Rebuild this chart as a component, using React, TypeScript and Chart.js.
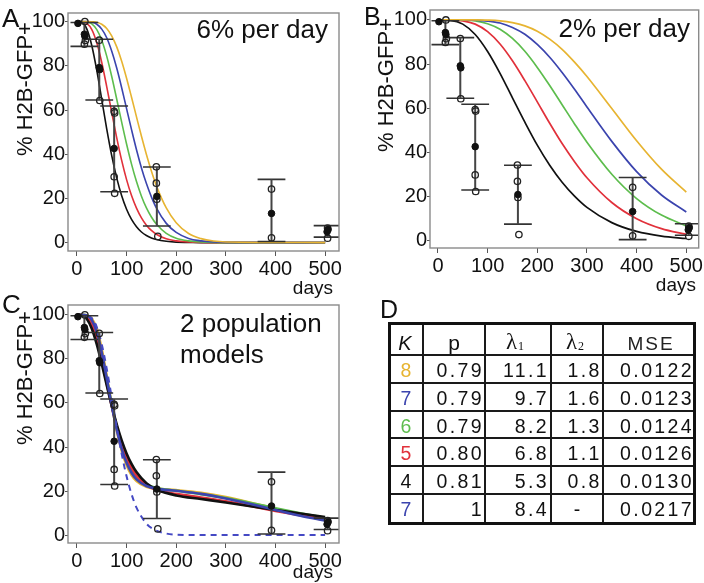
import React, { useEffect, useRef } from "react";
import { Chart, registerables } from "chart.js";

Chart.register(...registerables);

const FONT = '"Liberation Sans", Arial, Helvetica, sans-serif';
const SERIF = '"Liberation Serif", "Times New Roman", serif';

// ---------- axis ticks ----------
const xTicks = [0, 100, 200, 300, 400, 500];
const yTicks = [0, 20, 40, 60, 80, 100];

// ---------- measured data (same in every panel) ----------
const openDays = [16, 17, 15, 45, 46, 75, 76, 75, 76, 160, 160, 161, 163, 392, 392, 505, 505];
const openVals = [100, 91.5, 89.8, 91.6, 64.3, 59.4, 58.7, 29.8, 22.3, 34.3, 26.9, 19.6, 2.8, 24.2, 2.2, 6.6, 2.0];
const meanDays = [2, 15, 16, 45, 46, 75, 161, 392, 504, 506];
const meanVals = [99.2, 94.3, 93.4, 79.2, 78.3, 42.6, 20.9, 13.2, 4.9, 5.9];
const errDays = [15, 45, 75, 161, 392, 505];
const errHigh = [99.6, 92.0, 61.8, 34.2, 28.6, 7.7];
const errLow = [88.8, 64.5, 23.0, 7.5, 0.5, 2.5];

// ---------- panel A: 6% per day ----------
const aDays = [0, 10, 20, 30, 40, 50, 60, 70, 80, 90, 100, 110, 120, 130, 140, 150, 160, 180, 200, 225, 250, 275, 300, 500];
const aK4 = [100, 99.7, 96.6, 89.1, 77.9, 64.7, 51.5, 39.5, 29.4, 21.3, 15.1, 10.5, 7.2, 4.8, 3.2, 2.1, 1.4, 0.6, 0.2, 0.1, 0, 0, 0, 0];
const aK5 = [100, 100, 99.2, 96.4, 90.4, 81.5, 70.6, 59.0, 47.6, 37.3, 28.5, 21.3, 15.6, 11.2, 7.9, 5.5, 3.8, 1.7, 0.8, 0.3, 0.1, 0, 0, 0];
const aK6 = [100, 100, 99.8, 99.0, 96.4, 91.6, 84.4, 75.3, 65.1, 54.6, 44.6, 35.5, 27.6, 21.0, 15.7, 11.6, 8.4, 4.2, 2.0, 0.8, 0.3, 0.1, 0, 0];
const aK7 = [100, 100, 100, 99.7, 98.8, 96.6, 92.7, 86.7, 79.1, 70.2, 60.6, 51.1, 42.0, 33.8, 26.7, 20.7, 15.7, 8.7, 4.6, 1.9, 0.8, 0.3, 0.1, 0];
const aK8 = [100, 100, 100, 99.9, 99.7, 98.8, 96.9, 93.6, 88.7, 82.2, 74.4, 65.8, 56.9, 48.1, 39.9, 32.4, 25.8, 15.7, 9.0, 4.1, 1.8, 0.7, 0.3, 0];

// ---------- panel B: 2% per day ----------
const bDays = [0, 25, 50, 75, 100, 125, 150, 175, 200, 225, 250, 275, 300, 350, 400, 450, 500];
const bK4 = [100, 99.8, 98.1, 93.4, 85.7, 75.8, 64.7, 53.7, 43.3, 34.2, 26.5, 20.2, 15.1, 8.2, 4.2, 2.1, 1.0];
const bK5 = [100, 100, 99.6, 98.1, 94.7, 89.1, 81.5, 72.5, 62.9, 53.2, 44.0, 35.8, 28.5, 17.3, 10.0, 5.5, 2.9];
const bK6 = [100, 100, 99.9, 99.6, 98.3, 95.8, 91.6, 85.8, 78.5, 70.3, 61.6, 52.9, 44.6, 30.1, 19.1, 11.6, 6.7];
const bK7 = [100, 100, 100, 99.9, 99.5, 98.6, 96.6, 93.5, 88.9, 83.1, 76.2, 68.6, 60.6, 45.0, 31.3, 20.7, 13.0];
const bK8 = [100, 100, 100, 100, 99.9, 99.6, 98.8, 97.3, 94.9, 91.3, 86.7, 80.9, 74.4, 59.9, 45.3, 32.4, 22.0];

// ---------- panel C: 2 population models ----------
const cDays = [0, 10, 20, 30, 40, 50, 60, 70, 80, 90, 100, 110, 120, 140, 160, 200, 250, 300, 350, 400, 450, 500];
const cK8 = [100, 100, 99.8, 98.4, 93.6, 84.5, 72.3, 59.4, 47.7, 38.5, 31.8, 27.3, 24.6, 21.9, 21.1, 20.4, 19.2, 17.3, 14.7, 11.9, 9.2, 6.8];
const cK7 = [100, 100, 99.7, 97.7, 92.2, 82.9, 71.2, 59.0, 48.1, 39.3, 32.8, 28.3, 25.3, 22.3, 21.1, 20.1, 18.7, 16.6, 14.1, 11.4, 8.8, 6.6];
const cK6 = [100, 100, 99.5, 96.9, 90.9, 81.8, 70.8, 59.5, 49.4, 41.1, 34.7, 30.0, 26.7, 23.0, 21.4, 20.1, 18.6, 16.8, 14.6, 12.2, 9.9, 7.8];
const cK5 = [100, 100, 99.0, 95.5, 88.8, 79.5, 69.0, 58.7, 49.3, 41.4, 35.3, 30.5, 27.0, 22.8, 20.6, 18.7, 17.1, 15.3, 13.2, 11.0, 9.0, 7.2];
const cK4 = [100, 99.8, 98.1, 93.7, 86.6, 77.7, 68.1, 58.8, 50.4, 43.1, 37.1, 32.3, 28.6, 23.5, 20.7, 18.0, 16.4, 14.8, 13.1, 11.4, 9.8, 8.2];
const cSingleDays = [0, 10, 20, 30, 40, 50, 60, 70, 80, 90, 100, 110, 120, 140, 160, 180, 200, 250, 500];
const cSingle = [100, 100, 99.8, 98.5, 94.5, 86.7, 75.6, 62.6, 49.2, 37.0, 26.7, 18.6, 12.5, 5.2, 2.0, 0.7, 0.2, 0, 0];

// ---------- table D ----------
const tableK = ["8", "7", "6", "5", "4", "7"];
const tableP = ["0.79", "0.79", "0.79", "0.80", "0.81", "1"];
const tableL1 = ["11.1", "9.7", "8.2", "6.8", "5.3", "8.4"];
const tableL2 = ["1.8", "1.6", "1.3", "1.1", "0.8", "-"];
const tableMSE = ["0.0122", "0.0123", "0.0124", "0.0126", "0.0130", "0.0217"];

const C8 = "#E7B431";
const C7 = "#3B44AE";
const C6 = "#5DBD4D";
const C5 = "#E1313B";
const C4 = "#111111";
const tableColors = [C8, C7, C6, C5, "#111111", C7];

const CAP = 28;

const pts = (xs: number[], ys: number[]) => xs.map((x, i) => ({ x, y: ys[i] }));

function errSegments() {
  const d: any[] = [];
  errDays.forEach((x, i) => {
    d.push({ x, y: errLow[i] }, { x, y: errHigh[i] }, { x, y: null });
  });
  return d;
}
function capSegments() {
  const d: any[] = [];
  errDays.forEach((x, i) => {
    [errHigh[i], errLow[i]].forEach((v) => {
      d.push({ x: x - CAP, y: v }, { x: x + CAP, y: v }, { x, y: null });
    });
  });
  return d;
}

function markerSets() {
  return [
    {
      label: "mean",
      data: pts(meanDays, meanVals),
      showLine: false,
      pointRadius: 3.3,
      pointBackgroundColor: "#111",
      pointBorderColor: "#111",
      pointBorderWidth: 1,
      order: 0,
    },
    {
      label: "individual",
      data: pts(openDays, openVals),
      showLine: false,
      pointRadius: 3.2,
      pointBackgroundColor: "rgba(255,255,255,0)",
      pointBorderColor: "#222",
      pointBorderWidth: 1.3,
      order: 0,
    },
    {
      label: "error",
      data: errSegments(),
      borderColor: "#454545",
      borderWidth: 2,
      pointRadius: 0,
      spanGaps: false,
      order: 1,
    },
    {
      label: "caps",
      data: capSegments(),
      borderColor: "#333",
      borderWidth: 1.6,
      pointRadius: 0,
      spanGaps: false,
      order: 1,
    },
  ];
}

function curve(label: string, xs: number[], ys: number[], color: string, order: number, width: number, extra: any = {}) {
  return {
    label,
    data: pts(xs, ys),
    borderColor: color,
    borderWidth: width,
    pointRadius: 0,
    cubicInterpolationMode: "monotone",
    fill: false,
    order,
    ...extra,
  };
}

const boxPlugin = {
  id: "box",
  afterDraw(chart: any) {
    const { ctx, chartArea } = chart;
    ctx.save();
    ctx.strokeStyle = "#8a8a8a";
    ctx.lineWidth = 1.4;
    ctx.strokeRect(chartArea.left, chartArea.top, chartArea.right - chartArea.left, chartArea.bottom - chartArea.top);
    ctx.restore();
  },
};

type Area = { l: number; t: number; r: number; b: number };

function PlotPanel(props: {
  left: number; top: number; width: number; height: number; area: Area;
  xRange: [number, number]; yRange: [number, number]; curves: any[];
}) {
  const ref = useRef<HTMLCanvasElement>(null);
  const { left, top, width, height, area, xRange, yRange, curves } = props;
  useEffect(() => {
    const chart = new Chart(ref.current as HTMLCanvasElement, {
      type: "line",
      data: { datasets: [...markerSets(), ...curves] as any },
      options: {
        responsive: false,
        animation: false,
        layout: { padding: { left: 0, top: area.t, right: width - area.r, bottom: 0 } },
        plugins: { legend: { display: false }, tooltip: { enabled: false } },
        scales: {
          x: {
            type: "linear",
            min: xRange[0],
            max: xRange[1],
            afterBuildTicks: (s: any) => { s.ticks = xTicks.map((value) => ({ value })); },
            afterFit: (s: any) => { s.height = height - area.b; s.paddingLeft = 0; s.paddingRight = 0; },
            grid: { drawOnChartArea: false, drawTicks: true, tickLength: 5, color: "#555", lineWidth: 1 },
            border: { display: false },
            ticks: { font: { family: FONT, size: 20 }, color: "#111", padding: 1, maxRotation: 0, autoSkip: false },
          },
          y: {
            type: "linear",
            min: yRange[0],
            max: yRange[1],
            afterBuildTicks: (s: any) => { s.ticks = yTicks.map((value) => ({ value })); },
            afterFit: (s: any) => { s.width = area.l; s.paddingTop = 0; s.paddingBottom = 0; },
            grid: { drawOnChartArea: false, drawTicks: true, tickLength: 3, color: "#555", lineWidth: 1 },
            border: { display: false },
            ticks: { font: { family: FONT, size: 20 }, color: "#111", padding: 0, autoSkip: false },
          },
        },
      } as any,
      plugins: [boxPlugin],
    });
    return () => chart.destroy();
  }, []);
  return (
    <canvas
      ref={ref}
      width={width}
      height={height}
      style={{ position: "absolute", left, top, width, height }}
    />
  );
}

function Txt(props: { x: number; y: number; size: number; text: string; anchor?: string; family?: string; color?: string; style?: any }) {
  const { x, y, size, text, anchor = "start", family = FONT, color = "#111", style = {} } = props;
  const base: any = {
    position: "absolute",
    top: y - 0.8465 * size,
    fontSize: size,
    lineHeight: `${size}px`,
    fontFamily: family,
    whiteSpace: "nowrap",
    color,
    ...style,
  };
  if (anchor === "end") base.right = 704 - x;
  else if (anchor === "middle") { base.left = x - 150; base.width = 300; base.textAlign = "center"; }
  else base.left = x;
  return <div style={base}>{text}</div>;
}

function YTitle(props: { baselineX: number; cy: number; size: number; text: string }) {
  const { baselineX, cy, size, text } = props;
  const cx = baselineX - 0.3465 * size;
  return (
    <div
      style={{
        position: "absolute", left: cx - 100, top: cy - size / 2, width: 200, height: size,
        lineHeight: `${size}px`, fontSize: size, fontFamily: FONT, textAlign: "center",
        transform: "rotate(-90deg)", whiteSpace: "nowrap", color: "#111",
      }}
    >
      {text}
    </div>
  );
}

const colX = [389, 423, 485, 551, 603, 694];
const rowY = [323, 355, 383, 411, 438, 466, 494, 523];

function TableD() {
  const els: any[] = [];
  for (let i = 1; i < colX.length - 1; i++) {
    els.push(<div key={"v" + i} style={{ position: "absolute", left: colX[i] - 1, top: rowY[0], width: 2, height: rowY[rowY.length - 1] - rowY[0], background: "#1a1a1a" }} />);
  }
  for (let j = 1; j < rowY.length - 1; j++) {
    els.push(<div key={"h" + j} style={{ position: "absolute", left: colX[0], top: rowY[j] - 1, width: colX[colX.length - 1] - colX[0], height: 2, background: "#1a1a1a" }} />);
  }
  els.push(
    <div key="outer" style={{ position: "absolute", left: colX[0] - 1.5, top: rowY[0] - 1.5, width: colX[5] - colX[0] + 3, height: rowY[7] - rowY[0] + 3, border: "3px solid #111", boxSizing: "border-box" }} />
  );
  const ls = 2.4;
  const fs = 19.5;
  const sp = { letterSpacing: `${ls}px` };
  const hb = 350;
  els.push(<Txt key="hK" x={405} y={hb} size={20} text="K" anchor="middle" style={{ fontStyle: "italic" }} />);
  els.push(<Txt key="hp" x={454} y={hb} size={21} text="p" anchor="middle" />);
  els.push(<Txt key="hl1" x={506} y={hb - 0.5} size={23} text="λ" family={SERIF} />);
  els.push(<Txt key="hl1s" x={518} y={hb} size={12} text="1" family={SERIF} />);
  els.push(<Txt key="hl2" x={566} y={hb - 0.5} size={23} text="λ" family={SERIF} />);
  els.push(<Txt key="hl2s" x={578} y={hb} size={12} text="2" family={SERIF} />);
  els.push(<Txt key="hmse" x={651} y={hb} size={19} text="MSE" anchor="middle" style={{ letterSpacing: "2px", color: "#222" }} />);
  for (let r = 0; r < tableK.length; r++) {
    const b = rowY[r + 1] + 22.3;
    els.push(<Txt key={"k" + r} x={406} y={b} size={fs} text={tableK[r]} anchor="middle" color={tableColors[r]} />);
    els.push(<Txt key={"p" + r} x={481.7 + ls} y={b} size={fs} text={tableP[r]} anchor="end" style={sp} />);
    els.push(<Txt key={"l1" + r} x={546.7 + ls} y={b} size={fs} text={tableL1[r]} anchor="end" style={sp} />);
    if (tableL2[r] === "-") {
      els.push(<Txt key={"l2" + r} x={577} y={b} size={fs} text={tableL2[r]} anchor="middle" />);
    } else {
      els.push(<Txt key={"l2" + r} x={599.3 + ls} y={b} size={fs} text={tableL2[r]} anchor="end" style={sp} />);
    }
    els.push(<Txt key={"m" + r} x={691.7 + ls} y={b} size={fs} text={tableMSE[r]} anchor="end" style={sp} />);
  }
  return <>{els}</>;
}

export default function App() {
  const curvesA = [
    curve("K=8", aDays, aK8, C8, 2, 1.6),
    curve("K=7", aDays, aK7, C7, 3, 1.6),
    curve("K=6", aDays, aK6, C6, 4, 1.6),
    curve("K=5", aDays, aK5, C5, 5, 1.6),
    curve("K=4", aDays, aK4, C4, 6, 1.6),
  ];
  const curvesB = [
    curve("K=8", bDays, bK8, C8, 2, 1.7),
    curve("K=7", bDays, bK7, C7, 3, 1.7),
    curve("K=6", bDays, bK6, C6, 4, 1.7),
    curve("K=5", bDays, bK5, C5, 5, 1.7),
    curve("K=4", bDays, bK4, C4, 6, 1.7),
  ];
  const curvesC = [
    curve("single K=7", cSingleDays, cSingle, "#4549C4", 2, 2, { borderDash: [6, 5] }),
    curve("K=7", cDays, cK7, C7, 3, 2.6),
    curve("K=4", cDays, cK4, C4, 4, 2.6),
    curve("K=5", cDays, cK5, C5, 5, 2.6),
    curve("K=6", cDays, cK6, C6, 6, 2.6),
    curve("K=8", cDays, cK8, C8, 7, 2.6),
  ];
  return (
    <div style={{ position: "absolute", left: 0, top: 0, width: 704, height: 583, background: "#fff", overflow: "hidden", fontFamily: FONT, color: "#111" }}>
      <PlotPanel left={0} top={0} width={352} height={290} area={{ l: 68, t: 13, r: 339, b: 251 }} xRange={[-18, 528]} yRange={[-3.8, 103.9]} curves={curvesA} />
      <PlotPanel left={352} top={0} width={352} height={290} area={{ l: 78, t: 10, r: 349, b: 248 }} xRange={[-16, 525]} yRange={[-3.3, 104.5]} curves={curvesB} />
      <PlotPanel left={0} top={290} width={352} height={293} area={{ l: 68, t: 15, r: 339, b: 253 }} xRange={[-18, 528]} yRange={[-3.6, 104.5]} curves={curvesC} />

      <YTitle baselineX={33} cy={88.5} size={22} text="% H2B-GFP+" />
      <YTitle baselineX={394} cy={84.5} size={22} text="% H2B-GFP+" />
      <YTitle baselineX={33} cy={377.5} size={22} text="% H2B-GFP+" />

      <Txt x={2} y={27} size={26} text="A" />
      <Txt x={364} y={25.5} size={25} text="B" />
      <Txt x={2} y={313.5} size={26} text="C" />
      <Txt x={380} y={318} size={25} text="D" />

      <Txt x={328} y={38} size={26} text="6% per day" anchor="end" />
      <Txt x={690} y={37.3} size={26} text="2% per day" anchor="end" />
      <Txt x={180} y={332} size={26} text="2 population" />
      <Txt x={180} y={363} size={26} text="models" />

      <Txt x={333} y={294} size={19} text="days" anchor="end" />
      <Txt x={696} y={291} size={19} text="days" anchor="end" />
      <Txt x={333} y={578} size={19} text="days" anchor="end" />

      <TableD />
    </div>
  );
}
